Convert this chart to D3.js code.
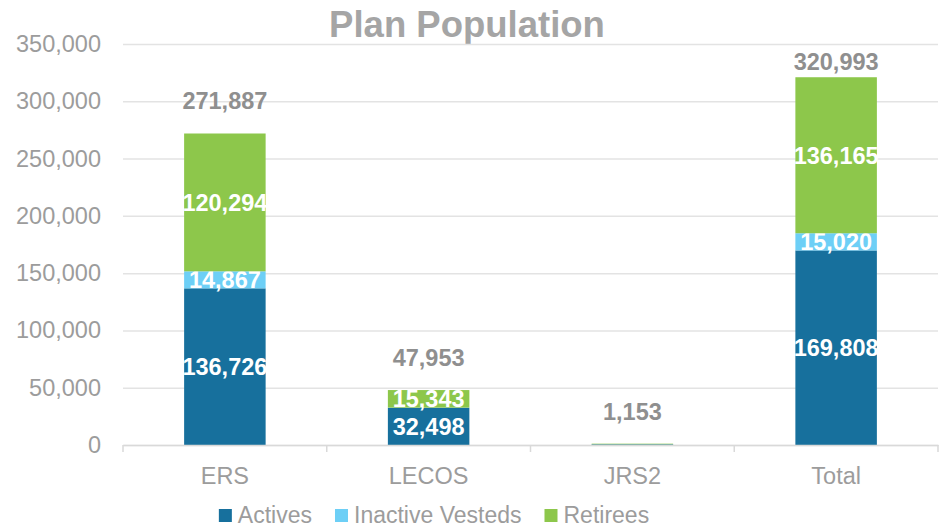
<!DOCTYPE html>
<html>
<head>
<meta charset="utf-8">
<script src="https://cdn.jsdelivr.net/npm/d3@7"></script>
<style>
  body { margin: 0; background: #fff; }
  svg { font-family: "Liberation Sans", Arial, sans-serif; }
</style>
</head>
<body>
<svg id="chart" width="940" height="529"></svg>
<script>
//Chart data
var categories = ["ERS", "LECOS", "JRS2", "Total"];
var actives = [136726, 32498, 584, 169808];
var inactiveVesteds = [14867, 112, 41, 15020];
var retirees = [120294, 15343, 528, 136165];
var seriesNames = ["Actives", "Inactive Vesteds", "Retirees"];
var yTicks = [0, 50000, 100000, 150000, 200000, 250000, 300000, 350000];

var colors = ["#17709d", "#6dcff6", "#8dc74b"];

//Build rows for the stack
var rows = categories.map(function(c, i){
    return {cat: c, "Actives": actives[i], "Inactive Vesteds": inactiveVesteds[i], "Retirees": retirees[i]};
});
var totals = rows.map(function(r){ return r["Actives"] + r["Inactive Vesteds"] + r["Retirees"]; });

var svg = d3.select("#chart");
var fmt = d3.format(",");

//Scales
var xScale = d3.scaleBand()
    .domain(categories)
    .range([123, 938])
    .paddingInner(0.6)
    .paddingOuter(0.3);

var yScale = d3.scaleLinear()
    .domain([0, 350000])
    .range([445, 44]);

//Title
svg.append("text")
    .attr("x", 467)
    .attr("y", 37)
    .attr("text-anchor", "middle")
    .attr("font-size", 36.5)
    .attr("font-weight", "bold")
    .attr("fill", "#a5a5a5")
    .text("Plan Population");

//Gridlines and y labels
var yAxis = d3.axisLeft(yScale)
    .tickValues(yTicks)
    .tickFormat(fmt)
    .tickSize(-(938 - 123))
    .tickPadding(22);

var gy = svg.append("g")
    .attr("transform", "translate(123,0)")
    .call(yAxis);
gy.select(".domain").remove();
gy.selectAll(".tick line").attr("stroke", "#e3e3e3").attr("stroke-width", 1.5);
gy.selectAll(".tick text")
    .attr("font-size", 23.5)
    .attr("fill", "#9c9c9c")
    .attr("font-family", "Liberation Sans, Arial, sans-serif");

//Stacked bars
var stack = d3.stack().keys(seriesNames);
var layers = stack(rows);

var layerG = svg.selectAll(".layer")
    .data(layers)
    .enter()
    .append("g")
    .attr("class", "layer")
    .attr("fill", function(d, i){ return colors[i]; });

layerG.selectAll("rect")
    .data(function(d){ return d; })
    .enter()
    .append("rect")
    .attr("x", function(d){ return xScale(d.data.cat); })
    .attr("width", xScale.bandwidth())
    .attr("y", function(d){ return yScale(d[1]); })
    .attr("height", function(d){ return yScale(d[0]) - yScale(d[1]); });

//Segment labels (hidden when the segment is too thin)
layerG.selectAll(".seg")
    .data(function(d){ return d.filter(function(s){ return (s[1] - s[0]) > 5000; }); })
    .enter()
    .append("text")
    .attr("class", "seg")
    .attr("x", function(d){ return xScale(d.data.cat) + xScale.bandwidth() / 2; })
    .attr("y", function(d){ return (yScale(d[0]) + yScale(d[1])) / 2 + 8.5; })
    .attr("text-anchor", "middle")
    .attr("font-size", 23.5)
    .attr("font-weight", "bold")
    .attr("fill", "#fff")
    .text(function(d){ return fmt(d[1] - d[0]); });

//X axis
var xAxis = d3.axisBottom(xScale).tickSize(0).tickPadding(22);
var gx = svg.append("g")
    .attr("transform", "translate(0,445)")
    .call(xAxis);
gx.select(".domain").attr("stroke", "#d9d9d9").attr("stroke-width", 1.5);
gx.selectAll(".tick text")
    .attr("font-size", 23.5)
    .attr("fill", "#9c9c9c")
    .attr("font-family", "Liberation Sans, Arial, sans-serif");

//Category separator ticks
var sepX = d3.range(categories.length + 1).map(function(i){ return 123 + i * (938 - 123) / categories.length; });
svg.selectAll(".sep")
    .data(sepX)
    .enter()
    .append("line")
    .attr("x1", function(d){ return d; })
    .attr("x2", function(d){ return d; })
    .attr("y1", 445)
    .attr("y2", 452)
    .attr("stroke", "#d9d9d9")
    .attr("stroke-width", 1.5);

//Total labels
svg.selectAll(".total")
    .data(totals)
    .enter()
    .append("text")
    .attr("class", "total")
    .attr("x", function(d, i){ return xScale(categories[i]) + xScale.bandwidth() / 2; })
    .attr("y", function(d){ return Math.max(yScale(d) - 24, 70); })
    .attr("text-anchor", "middle")
    .attr("font-size", 23.5)
    .attr("font-weight", "bold")
    .attr("fill", "#8f8f8f")
    .text(function(d){ return fmt(d); });

//Legend
var legend = svg.append("g");
var lx = 0;
seriesNames.forEach(function(name, i){
    var item = legend.append("g").attr("transform", "translate(" + lx + ",0)");
    item.append("rect")
        .attr("x", 0).attr("y", 509)
        .attr("width", 13).attr("height", 13)
        .attr("fill", colors[i]);
    var t = item.append("text")
        .attr("x", 19).attr("y", 523)
        .attr("font-size", 23)
        .attr("fill", "#9c9c9c")
        .text(name);
    lx += 19 + t.node().getComputedTextLength() + 23;
});
var legendW = lx - 23;
legend.attr("transform", "translate(" + (434 - legendW / 2) + ",0)");
</script>
</body>
</html>
